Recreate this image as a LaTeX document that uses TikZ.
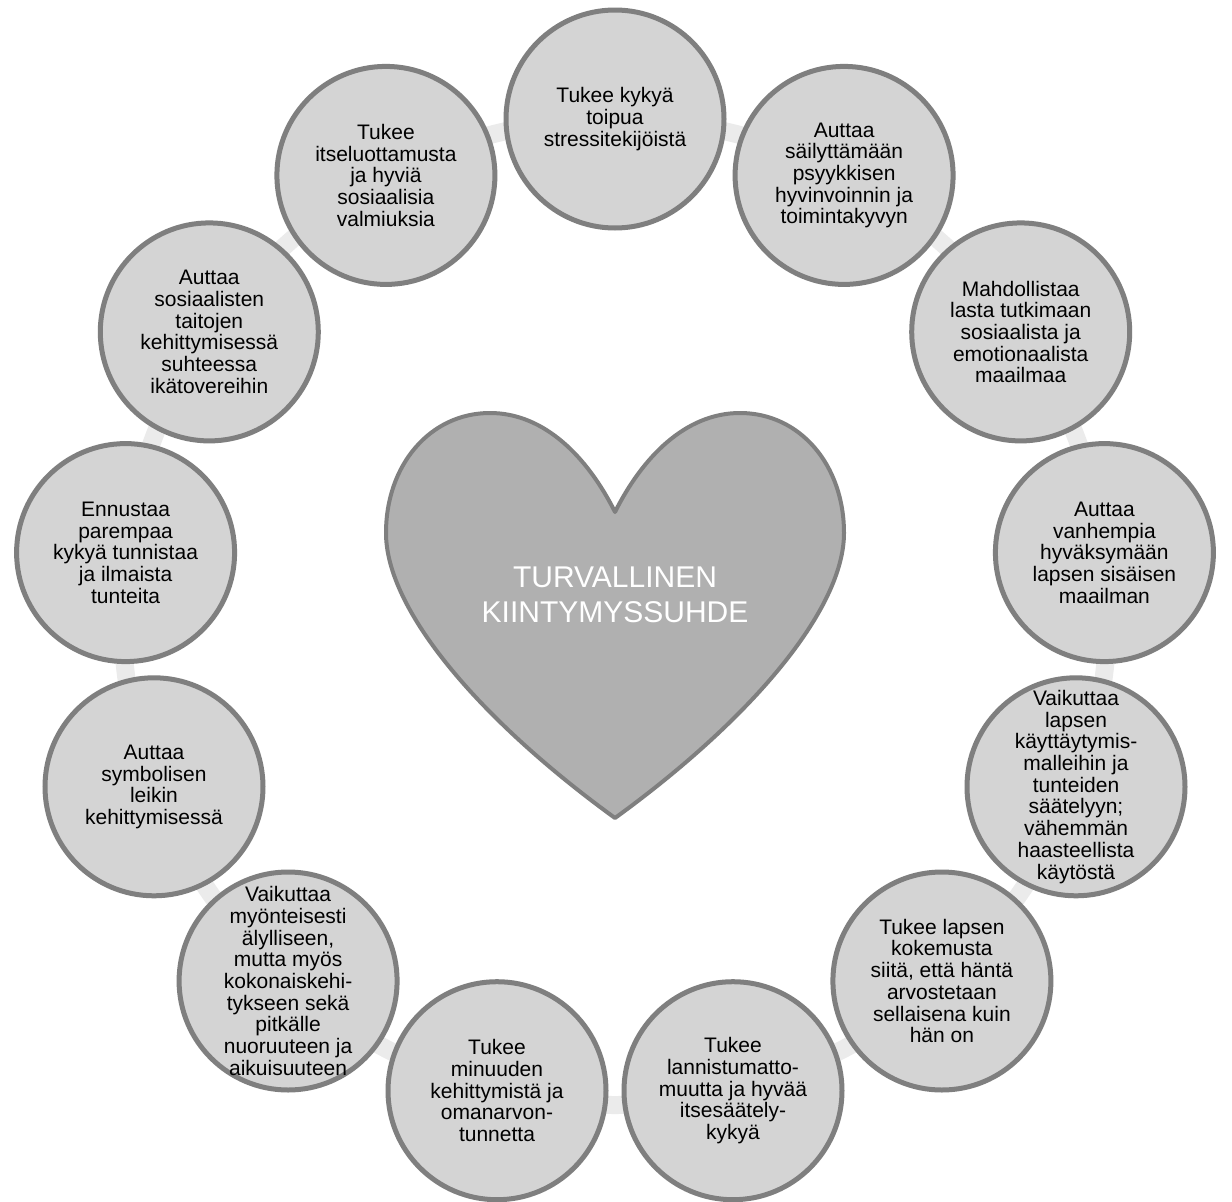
\documentclass[tikz,border=0pt]{standalone}
\usepackage{fontspec}
\setmainfont{Liberation Sans}
\definecolor{ringgray}{HTML}{EBEBEB}
\definecolor{bubblefill}{HTML}{D4D4D4}
\definecolor{edgegray}{HTML}{7F7F7F}
\definecolor{heartfill}{HTML}{B0B0B0}
\tikzset{
  bubble/.style={circle, draw=edgegray, line width=5pt, fill=bubblefill,
                 minimum size=218pt, inner sep=0pt},
  bubtext/.style={align=center, inner sep=0pt, text=black,
                  font=\fontsize{21}{21.7}\selectfont},
  ring/.style={draw=ringgray, line width=18pt},
  heartshape/.style={draw=edgegray, line width=4pt, fill=heartfill, line join=round},
  hearttext/.style={align=center, inner sep=0pt, text=white,
                    font=\fontsize{30}{35}\selectfont}
}
\begin{document}
\begin{tikzpicture}[x=1pt,y=-1pt]
\useasboundingbox (0,0) rectangle (1232,1202);
\fill[white] (0,0) rectangle (1232,1202);

% background ring joining the bubbles
\coordinate (ctr) at (615,612);
\draw[ring] (ctr) circle[radius=493];

% central heart
\draw[heartshape] (615,512)
  .. controls (588,458) and (545,413) .. (490,413)
  .. controls (430,413) and (386,465) .. (386,533)
  .. controls (386,610) and (480,720) .. (615,818)
  .. controls (750,720) and (844,610) .. (844,533)
  .. controls (844,465) and (800,413) .. (740,413)
  .. controls (685,413) and (642,458) .. (615,512) -- cycle;
\node[hearttext] (core) at (615,595) {TURVALLINEN\\KIINTYMYSSUHDE};

% the thirteen bubbles, clockwise from the top
\node[bubble] (c0)  at (615.0,119.0)  {};
\node[bubble] (c1)  at (844.1,175.4)  {};
\node[bubble] (c2)  at (1020.7,331.9) {};
\node[bubble] (c3)  at (1104.4,552.6) {};
\node[bubble] (c4)  at (1076.0,786.8) {};
\node[bubble] (c5)  at (941.9,981.0)  {};
\node[bubble] (c6)  at (733.0,1090.7) {};
\node[bubble] (c7)  at (497.0,1090.7) {};
\node[bubble] (c8)  at (288.1,981.0)  {};
\node[bubble] (c9)  at (154.0,786.8)  {};
\node[bubble] (c10) at (125.6,552.6)  {};
\node[bubble] (c11) at (209.3,331.9)  {};
\node[bubble] (c12) at (385.9,175.4)  {};

\node[bubtext] (t0)  at (c0)  {Tukee kykyä\\toipua\\stressitekijöistä};
\node[bubtext] (t1)  at (c1)  {Auttaa\\säilyttämään\\psyykkisen\\hyvinvoinnin ja\\toimintakyvyn};
\node[bubtext] (t2)  at (c2)  {Mahdollistaa\\lasta tutkimaan\\sosiaalista ja\\emotionaalista\\maailmaa};
\node[bubtext] (t3)  at (c3)  {Auttaa\\vanhempia\\hyväksymään\\lapsen sisäisen\\maailman};
\node[bubtext] (t4)  at (c4)  {Vaikuttaa\\lapsen\\käyttäytymis-\\malleihin ja\\tunteiden\\säätelyyn;\\vähemmän\\haasteellista\\käytöstä};
\node[bubtext] (t5)  at (c5)  {Tukee lapsen\\kokemusta\\siitä, että häntä\\arvostetaan\\sellaisena kuin\\hän on};
\node[bubtext] (t6)  at (c6)  {Tukee\\lannistumatto-\\muutta ja hyvää\\itsesäätely-\\kykyä};
\node[bubtext] (t7)  at (c7)  {Tukee\\minuuden\\kehittymistä ja\\omanarvon-\\tunnetta};
\node[bubtext] (t8)  at (c8)  {Vaikuttaa\\myönteisesti\\älylliseen,\\mutta myös\\kokonaiskehi-\\tykseen sekä\\pitkälle\\nuoruuteen ja\\aikuisuuteen};
\node[bubtext] (t9)  at (c9)  {Auttaa\\symbolisen\\leikin\\kehittymisessä};
\node[bubtext] (t10) at (c10) {Ennustaa\\parempaa\\kykyä tunnistaa\\ja ilmaista\\tunteita};
\node[bubtext] (t11) at (c11) {Auttaa\\sosiaalisten\\taitojen\\kehittymisessä\\suhteessa\\ikätovereihin};
\node[bubtext] (t12) at (c12) {Tukee\\itseluottamusta\\ja hyviä\\sosiaalisia\\valmiuksia};
\end{tikzpicture}
\end{document}
